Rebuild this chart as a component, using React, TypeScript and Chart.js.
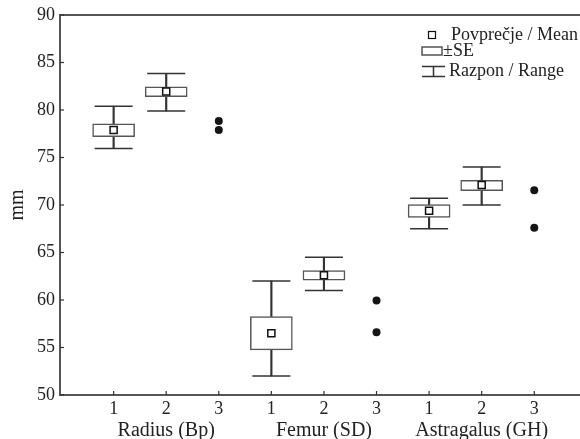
import React, { useEffect, useRef } from "react";
import { Chart, registerables } from "chart.js";
Chart.register(...registerables);

// ---- data ----
const groupNames = ["Radius (Bp)", "Femur (SD)", "Astragalus (GH)"];
const groupCenters = [2, 5, 8];
const tickPositions = [1, 2, 3, 4, 5, 6, 7, 8, 9];
const tickLabels = ["1", "2", "3", "1", "2", "3", "1", "2", "3"];

const boxPositions = [1, 2, 4, 5, 7, 8];
const means = [77.9, 81.95, 56.5, 62.6, 69.4, 72.1];
const seLow = [77.2, 81.4, 54.75, 62.1, 68.7, 71.5];
const seHigh = [78.55, 82.45, 58.25, 63.1, 70.05, 72.6];
const rangeMin = [75.95, 79.9, 52.0, 61.0, 67.5, 70.0];
const rangeMax = [80.4, 83.85, 62.0, 64.5, 70.7, 74.0];

const dotPositions = [3, 3, 6, 6, 9, 9];
const dotValues = [78.85, 77.9, 59.95, 56.6, 71.55, 67.6];

const legendLabels = ["Povprečje / Mean", "±SE", "Razpon / Range"];

const FONT = "'Liberation Serif', 'Times New Roman', serif";

const framePlugin = {
  id: "frame",
  afterDraw(chart: any) {
    const { ctx, chartArea: a, scales } = chart;
    const xs = scales.x;
    const ys = scales.y;
    ctx.save();
    // axes frame
    ctx.strokeStyle = "#555";
    ctx.lineWidth = 2;
    ctx.beginPath();
    ctx.moveTo(a.right, a.top);
    ctx.lineTo(a.left, a.top);
    ctx.lineTo(a.left, a.bottom);
    ctx.lineTo(a.right, a.bottom);
    ctx.stroke();
    // inward tick marks
    ctx.strokeStyle = "#333";
    ctx.lineWidth = 1.2;
    xs.ticks.forEach((t: any) => {
      const px = xs.getPixelForValue(t.value);
      ctx.beginPath();
      ctx.moveTo(px, a.bottom);
      ctx.lineTo(px, a.bottom - 4);
      ctx.stroke();
    });
    ys.ticks.forEach((t: any) => {
      const py = ys.getPixelForValue(t.value);
      ctx.beginPath();
      ctx.moveTo(a.left, py);
      ctx.lineTo(a.left + 4, py);
      ctx.stroke();
    });
    // group labels
    ctx.fillStyle = "#222";
    ctx.font = `20px ${FONT}`;
    ctx.textAlign = "center";
    ctx.textBaseline = "alphabetic";
    groupNames.forEach((n, i) => {
      ctx.fillText(n, xs.getPixelForValue(groupCenters[i]), a.bottom + 41);
    });
    // legend
    const lx = 422;
    ctx.font = `18px ${FONT}`;
    ctx.textAlign = "left";
    ctx.textBaseline = "middle";
    // mean marker
    ctx.fillStyle = "#fff";
    ctx.strokeStyle = "#111";
    ctx.lineWidth = 1.2;
    ctx.fillRect(lx + 6.5, 31.5, 7, 7);
    ctx.strokeRect(lx + 6.5, 31.5, 7, 7);
    ctx.fillStyle = "#222";
    ctx.fillText(legendLabels[0], lx + 29, 35);
    // SE box
    ctx.strokeStyle = "#555";
    ctx.lineWidth = 1.5;
    ctx.strokeRect(lx, 47, 20, 8);
    ctx.fillText(legendLabels[1], lx + 21, 51);
    // range
    ctx.strokeStyle = "#333";
    ctx.beginPath();
    ctx.moveTo(lx, 66.5);
    ctx.lineTo(lx + 23, 66.5);
    ctx.moveTo(lx + 11.5, 66.5);
    ctx.lineTo(lx + 11.5, 76.5);
    ctx.moveTo(lx, 76.5);
    ctx.lineTo(lx + 23, 76.5);
    ctx.stroke();
    ctx.fillText(legendLabels[2], lx + 27, 71.5);
    ctx.restore();
  },
};

export default function App() {
  const ref = useRef<HTMLCanvasElement | null>(null);
  useEffect(() => {
    if (!ref.current) return;
    Chart.defaults.font.family = FONT;
    Chart.defaults.color = "#222";
    const chart = new Chart(ref.current, {
      type: "bar",
      data: {
        datasets: [
          {
            type: "bar",
            data: boxPositions.map((p, i) => ({ x: p, y: [rangeMin[i], rangeMax[i]] })) as any,
            backgroundColor: "#333",
            borderWidth: 0,
            barThickness: 1.5,
            grouped: false,
            order: 5,
          } as any,
          {
            type: "bar",
            data: boxPositions.map((p, i) => ({ x: p, y: [seLow[i], seHigh[i]] })) as any,
            backgroundColor: "#fff",
            borderColor: "#555",
            borderWidth: 1.5,
            borderSkipped: false,
            barThickness: 42,
            grouped: false,
            order: 4,
          } as any,
          {
            type: "line",
            showLine: false,
            data: boxPositions.flatMap((p, i) => [
              { x: p, y: rangeMin[i] },
              { x: p, y: rangeMax[i] },
            ]),
            pointStyle: "line",
            pointRadius: 19,
            pointBorderColor: "#333",
            pointBorderWidth: 1.5,
            order: 3,
          } as any,
          {
            type: "line",
            showLine: false,
            data: boxPositions.map((p, i) => ({ x: p, y: means[i] })),
            pointStyle: "rect",
            pointRadius: 5,
            pointBackgroundColor: "#fff",
            pointBorderColor: "#111",
            pointBorderWidth: 1.5,
            order: 2,
          } as any,
          {
            type: "line",
            showLine: false,
            data: dotPositions.map((p, i) => ({ x: p, y: dotValues[i] })),
            pointStyle: "circle",
            pointRadius: 4,
            pointBackgroundColor: "#151515",
            pointBorderWidth: 0,
            order: 1,
          } as any,
        ],
      },
      options: {
        responsive: false,
        animation: false,
        layout: { autoPadding: false, padding: { top: 15, left: 0, right: 0, bottom: 0 } },
        plugins: { legend: { display: false }, tooltip: { enabled: false } },
        scales: {
          x: {
            type: "linear",
            min: -0.02,
            max: 9.87,
            offset: false,
            grid: { display: false, drawTicks: false },
            border: { display: false },
            afterBuildTicks: (s: any) => {
              s.ticks = tickPositions.map((v) => ({ value: v }));
            },
            afterFit: (s: any) => {
              s.height = 44;
              s.paddingLeft = 0;
              s.paddingRight = 0;
            },
            ticks: {
              autoSkip: false,
              maxRotation: 0,
              padding: 3,
              font: { size: 18 },
              color: "#222",
              callback: (_v: any, i: number) => tickLabels[i],
            },
          },
          y: {
            type: "linear",
            min: 50,
            max: 90,
            grid: { display: false, drawTicks: false },
            border: { display: false },
            afterFit: (s: any) => {
              s.width = 60;
              s.paddingTop = 0;
              s.paddingBottom = 0;
            },
            ticks: { stepSize: 5, padding: 5, font: { size: 18 }, color: "#222" },
            title: {
              display: true,
              text: "mm",
              font: { size: 20 },
              color: "#222",
              padding: { top: 6, bottom: 0 },
            },
          },
        },
      } as any,
      plugins: [framePlugin],
    });
    return () => chart.destroy();
  }, []);
  return (
    <div style={{ position: "absolute", left: 0, top: 0, width: 580, height: 439, background: "#fff" }}>
      <canvas ref={ref} width={580} height={439} />
    </div>
  );
}
